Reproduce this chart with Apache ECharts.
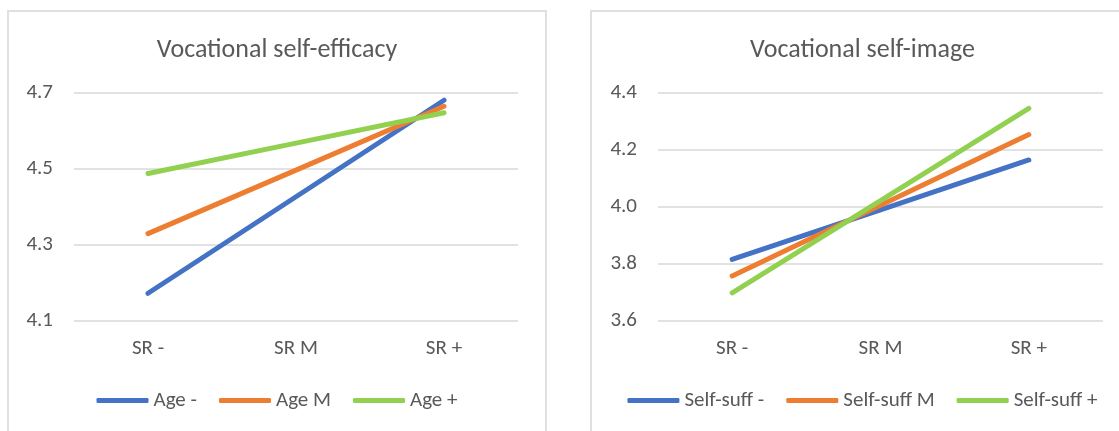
<!DOCTYPE html>
<html>
<head>
<meta charset="utf-8">
<script src="https://cdn.jsdelivr.net/npm/echarts@6/dist/echarts.min.js"></script>
<style>
  html, body { margin: 0; padding: 0; background: #fff; width: 1119px; height: 431px; overflow: hidden; }
  .panel { position: absolute; top: 10px; height: 450px; border: 2px solid #e0e0e0; box-sizing: border-box; }
  #left { left: 7px; width: 540px; }
  #right { left: 590px; width: 545px; }
</style>
</head>
<body>
<div id="left" class="panel"></div>
<div id="right" class="panel"></div>
<script>
// categories on the x axis
var categories = ['SR -', 'SR M', 'SR +'];

// left chart: vocational self-efficacy by age
var ageNames = ['Age -', 'Age M', 'Age +'];
var ageLow = [4.173, 4.427, 4.681];
var ageMid = [4.330, 4.497, 4.665];
var ageHigh = [4.488, 4.568, 4.648];

// right chart: vocational self-image by self-sufficiency
var suffNames = ['Self-suff -', 'Self-suff M', 'Self-suff +'];
var suffLow = [3.816, 3.990, 4.165];
var suffMid = [3.758, 4.006, 4.254];
var suffHigh = [3.699, 4.022, 4.346];

var colors = ['#4472C4', '#ED7D31', '#92D050'];
var font = 'Carlito, Lato, sans-serif';
var textColor = '#595959';

function makeChart(id, title, names, data, yMin, yMax, yStep, gridLeft, gridWidth) {
    var chart = echarts.init(document.getElementById(id));
    var series = names.map(function (n, i) {
        return {
            name: n,
            type: 'line',
            data: data[i],
            symbol: 'none',
            lineStyle: { width: 5, color: colors[i], cap: 'round' },
            itemStyle: { color: colors[i] }
        };
    });
    chart.setOption({
        animation: false,
        title: {
            text: title,
            left: 'center',
            top: 20,
            textStyle: { fontFamily: font, fontSize: 26, fontWeight: 'normal', color: textColor }
        },
        legend: {
            data: names,
            left: 'center',
            top: 373,
            icon: 'roundRect',
            itemWidth: 52,
            itemHeight: 5,
            itemGap: 22,
            textStyle: { fontFamily: font, fontSize: 21, color: textColor }
        },
        grid: { left: gridLeft, top: 81, width: gridWidth, height: 228 },
        xAxis: {
            type: 'category',
            data: categories,
            axisLine: { show: false },
            axisTick: { show: false },
            axisLabel: { fontFamily: font, fontSize: 21, color: textColor, margin: 17 }
        },
        yAxis: {
            type: 'value',
            min: yMin,
            max: yMax,
            interval: yStep,
            axisLine: { show: false },
            axisTick: { show: false },
            axisLabel: {
                fontFamily: font, fontSize: 21, color: textColor, margin: 21,
                formatter: function (v) { return v.toFixed(1); }
            },
            splitLine: { lineStyle: { color: '#d9d9d9', width: 1.5 } }
        },
        series: series
    });
    return chart;
}

makeChart('left', 'Vocational self-efficacy', ageNames, [ageLow, ageMid, ageHigh], 4.1, 4.7, 0.2, 65, 444);
makeChart('right', 'Vocational self-image', suffNames, [suffLow, suffMid, suffHigh], 3.6, 4.4, 0.2, 66, 445);
</script>
</body>
</html>
